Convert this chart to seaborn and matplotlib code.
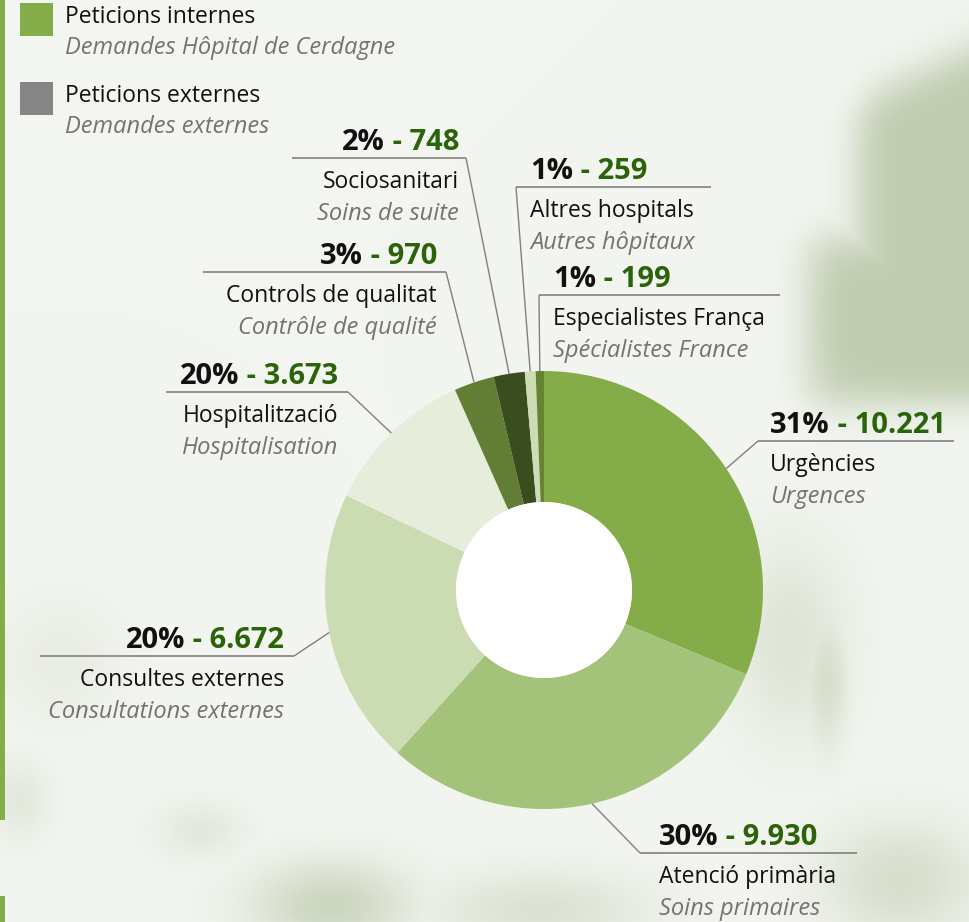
import numpy as np
import matplotlib
matplotlib.use("Agg")
import matplotlib.pyplot as plt
from matplotlib.patches import Rectangle, Circle
import seaborn as sns

# ---------------- data ----------------
categories = ["Urgències", "Atenció primària", "Consultes externes", "Hospitalització",
              "Controls de qualitat", "Sociosanitari", "Altres hospitals", "Especialistes França"]
categories_fr = ["Urgences", "Soins primaires", "Consultations externes", "Hospitalisation",
                 "Contrôle de qualité", "Soins de suite", "Autres hôpitaux", "Spécialistes France"]
requests = [10221, 9930, 6672, 3673, 970, 748, 259, 199]
pct_shown = [31, 30, 20, 20, 3, 2, 1, 1]
colors = ["#84AC48", "#A3C27A", "#CBDCB2", "#E6EEDB", "#627D34", "#3A4D1F", "#CCDDB5", "#668334"]

legend_labels = ["Peticions internes", "Peticions externes"]
legend_labels_fr = ["Demandes Hôpital de Cerdagne", "Demandes externes"]
legend_colors = ["#84AC48", "#858585"]

# ---------------- layout (pixels) ----------------
W, H = 970, 922
CX, CY, R, R_IN = 544, 590, 219, 88
# (line_y, text_x, side, line_x0, line_x1)
label_layout = [
    (441, 770, "left", 758, 954),
    (853, 659, "left", 640, 857),
    (656, 284, "right", 40, 294),
    (392, 338, "right", 166, 348),
    (272, 437, "right", 203, 446),
    (158, 459, "right", 292, 466),
    (187, 530, "left", 516, 711),
    (295, 553, "left", 539, 780),
]

sns.set_theme(style="white")
plt.rcParams['font.family'] = ['Open Sans', 'DejaVu Sans']

# ---------------- background ----------------
yy, xx = np.mgrid[0:H, 0:W].astype(float)


def sig(z):
    return 1.0 / (1.0 + np.exp(-np.clip(z, -50, 50)))


def soft_box(x0, x1, y0, y1, s):
    return sig((xx - x0) / s) * sig((x1 - xx) / s) * sig((yy - y0) / s) * sig((y1 - yy) / s)


def blob(cx, cy, rx, ry):
    return np.exp(-(((xx - cx) / rx) ** 2 + ((yy - cy) / ry) ** 2))


top_edge = 95 - (xx - 870) * 0.45
m = sig((xx - 858) / 11) * sig((yy - top_edge) / 13) * sig((402 - yy) / 10)
m = np.maximum(m, soft_box(810, 1100, 238, 402, 12))
m = np.maximum(m, 0.4 * blob(790, 640, 60, 100))
m = np.maximum(m, 0.55 * blob(826, 680, 22, 70))
m = np.maximum(m, 0.75 * blob(330, 905, 80, 45))
m = np.maximum(m, 0.3 * blob(200, 830, 45, 30))
m = np.maximum(m, 0.3 * blob(20, 800, 30, 40))
m = np.maximum(m, 0.45 * blob(540, 910, 110, 40))
m = np.maximum(m, 0.55 * blob(900, 880, 80, 60))
m = np.maximum(m, 0.2 * blob(60, 660, 60, 60))
base = np.array([243, 245, 240]) / 255.0
green = np.array([191, 204, 175]) / 255.0
bg = base[None, None, :] * (1 - m[..., None]) + green[None, None, :] * m[..., None]

fig = plt.figure(figsize=(W / 100, H / 100), dpi=100)
ax = fig.add_axes([0, 0, 1, 1])
ax.imshow(bg, extent=(0, W, H, 0), zorder=0, interpolation="bilinear")

# ---------------- donut ----------------
wedges, _ = ax.pie(requests, colors=colors, startangle=-90, counterclock=True,
                   radius=R, center=(CX, CY),
                   wedgeprops=dict(width=R - R_IN, linewidth=0, zorder=2), frame=True)
ax.add_patch(Circle((CX, CY), R_IN, facecolor="white", edgecolor="none", zorder=3))

# left green bar
ax.add_patch(Rectangle((0, 0), 5, 820, facecolor="#84AC48", edgecolor="none", zorder=4))
ax.add_patch(Rectangle((0, 896), 5, 30, facecolor="#84AC48", edgecolor="none", zorder=4))

HEAD_FS = 21
NAME_FS = 16.5
ITAL_FS = 17
BLACK = "#111111"
GREEN_TXT = "#2B630A"
GREY_TXT = "#737373"
LINE_C = "#808080"

for w, name, name_fr, n, p, (ly, tx, side, lx0, lx1) in zip(
        wedges, categories, categories_fr, requests, pct_shown, label_layout):
    mid = np.deg2rad((w.theta1 + w.theta2) / 2)
    px = CX + R * np.cos(mid)
    py = CY + R * np.sin(mid)
    elbow = lx0 if side == "left" else lx1
    ax.plot([px, elbow], [py, ly], color=LINE_C, lw=1.0, zorder=5, solid_capstyle="butt")
    ax.plot([lx0, lx1], [ly, ly], color=LINE_C, lw=1.2, zorder=5, solid_capstyle="butt")

    pct_txt = f"{p}%"
    val_txt = " - " + f"{n:,}".replace(",", ".")
    base_y = ly - 8
    if side == "left":
        t1 = ax.text(tx, base_y, pct_txt, ha="left", va="baseline", fontsize=HEAD_FS,
                     fontweight="bold", color=BLACK, zorder=6)
        ax.annotate(val_txt, xy=(1, 0), xycoords=t1, ha="left", va="bottom",
                    fontsize=HEAD_FS, fontweight="bold", color=GREEN_TXT, zorder=6)
    else:
        t1 = ax.text(tx, base_y, val_txt, ha="right", va="baseline", fontsize=HEAD_FS,
                     fontweight="bold", color=GREEN_TXT, zorder=6)
        ax.annotate(pct_txt, xy=(0, 0), xycoords=t1, ha="right", va="bottom",
                    fontsize=HEAD_FS, fontweight="bold", color=BLACK, zorder=6)
    ax.text(tx, ly + 24, name, ha=side, va="center", fontsize=NAME_FS, color=BLACK, zorder=6)
    ax.text(tx, ly + 56, name_fr, ha=side, va="center", fontsize=ITAL_FS, color=GREY_TXT,
            style="italic", zorder=6)

# ---------------- legend ----------------
for i, (lab, lab_fr, c) in enumerate(zip(legend_labels, legend_labels_fr, legend_colors)):
    y0 = 3 + i * 79
    ax.add_patch(Rectangle((20, y0), 33, 33, facecolor=c, edgecolor="none", zorder=6))
    ax.text(65, y0 + 14, lab, ha="left", va="center", fontsize=NAME_FS, color=BLACK, zorder=6)
    ax.text(65, y0 + 45, lab_fr, ha="left", va="center", fontsize=ITAL_FS, color=GREY_TXT,
            style="italic", zorder=6)

ax.set_xlim(0, W)
ax.set_ylim(H, 0)
ax.set_aspect("equal", adjustable="box")
ax.axis("off")
fig.savefig("out.png", dpi=100)
